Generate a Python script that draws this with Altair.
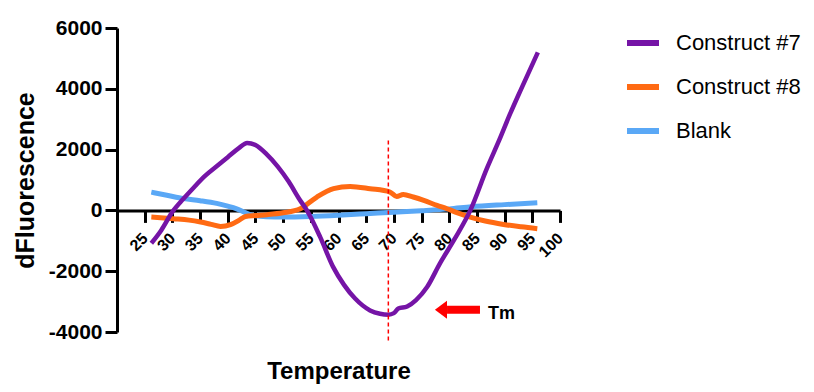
import altair as alt
import pandas as pd

# ---- data ----
series_names = ["Construct #7", "Construct #8", "Blank"]
series_colors = ["#7514A6", "#FF6A13", "#5AA8F6"]

temps7 = [26.2, 28, 30, 32, 34, 36, 38, 40, 42, 43.5, 45, 47, 49, 51, 53, 54.3, 56.7, 59, 61, 63,
          65.7, 67.5, 69, 70, 70.8, 72.4, 74, 76, 78.3, 81, 83.8, 86.8, 89, 91, 93, 96]
vals7 = [-1080, -650, -50, 380, 780, 1150, 1450, 1750, 2050, 2220, 2150, 1850, 1450, 950, 350, 0,
         -880, -1850, -2450, -2900, -3290, -3400, -3430, -3380, -3230, -3160, -2950, -2520, -1750,
         -930, 0, 1380, 2300, 3180, 4000, 5200]

temps8 = [26.2, 30.2, 33, 35.1, 37, 38.7, 40.5, 42, 43.2, 45, 47.1, 50, 53.1, 56.1, 59.1, 62.1,
          65.7, 69.3, 70.5, 71.7, 73.5, 75.4, 77.8, 79.6, 81.5, 83.8, 86.5, 89.8, 93, 95.9]
vals8 = [-220, -275, -320, -384, -460, -527, -470, -330, -200, -170, -142, -80, 55, 440, 714, 790,
         714, 604, 460, 527, 440, 329, 164, 55, -80, -220, -350, -461, -540, -600]

tempsB = [26.2, 29, 32, 35, 38, 40, 41.5, 43, 44.5, 47, 50, 55, 60, 65, 70, 75, 80, 84, 90, 95.9]
valsB = [600, 500, 390, 320, 230, 140, 60, -60, -160, -210, -220, -200, -160, -110, -60, -10, 50,
         120, 190, 250]

x_ticks = list(range(25, 101, 5))
y_ticks = [-4000, -2000, 0, 2000, 4000, 6000]

tm_temp = [69]
tm_top = [2300]
tm_bottom = [-4340]
arrow_shaft_start = [79.6]
arrow_shaft_end = [85.55]
arrow_head = [78.5]
arrow_level = [-3266]
tm_label = ["Tm"]
tm_label_x = [87.0]
tm_label_y = [-3586]

FONT = "Liberation Sans"

df7 = pd.DataFrame({"Temperature": temps7, "dF": vals7, "series": series_names[0]})
df8 = pd.DataFrame({"Temperature": temps8, "dF": vals8, "series": series_names[1]})
dfB = pd.DataFrame({"Temperature": tempsB, "dF": valsB, "series": series_names[2]})

x_axis = alt.Axis(
    values=x_ticks, grid=False, labelAngle=-45, labelAlign="right", labelBaseline="middle",
    labelFont=FONT, labelFontSize=16, labelFontWeight="bold", labelColor="black",
    labelPadding=13, labelFlush=False, labelOverlap=False,
    domainColor="black", domainWidth=3, tickColor="black", tickWidth=3, tickSize=12,
    offset=-121.6, title="Temperature", titleFont=FONT, titleFontSize=24,
    titleFontWeight="bold", titleColor="black", titleX=221.5, titleY=168,
    titleBaseline="alphabetic", titleAlign="center",
)
y_axis = alt.Axis(
    values=y_ticks, grid=False, labelExpr="toString(datum.value)",
    labelFont=FONT, labelFontSize=21, labelFontWeight="bold", labelColor="black",
    labelPadding=3, labelFlush=False, labelBaseline="middle",
    domainColor="black", domainWidth=3, tickColor="black", tickWidth=3, tickSize=12,
    title="dFluorescence", titleFont=FONT, titleFontSize=25, titleFontWeight="bold",
    titleColor="black", titleAngle=270, titleX=-84, titleY=152,
    titleBaseline="alphabetic", titleAlign="center",
)

x = alt.X("Temperature:Q", scale=alt.Scale(domain=[20, 100], nice=False, zero=False), axis=x_axis)
y = alt.Y("dF:Q", scale=alt.Scale(domain=[-4000, 6000], nice=False, zero=False), axis=y_axis)

color = alt.Color(
    "series:N",
    scale=alt.Scale(domain=series_names, range=series_colors),
    legend=alt.Legend(
        title=None, orient="none", legendX=507, legendY=-4, symbolType="stroke",
        symbolSize=1024, symbolStrokeWidth=6, labelFont=FONT, labelFontSize=22,
        labelColor="black", rowPadding=13, labelOffset=14, padding=0,
    ),
)


def curve(df, w):
    return alt.Chart(df).mark_line(strokeWidth=w, interpolate="monotone").encode(
        x=x, y=y, color=color
    )


tm_df = pd.DataFrame({"Temperature": tm_temp, "dF": tm_top, "dF2": tm_bottom})
tm_line = alt.Chart(tm_df).mark_rule(color="#FF0000", strokeDash=[4, 3], strokeWidth=1.5).encode(
    x=x, y=y, y2=alt.Y2("dF2:Q")
)

shaft_df = pd.DataFrame({"Temperature": arrow_shaft_start, "T2": arrow_shaft_end, "dF": arrow_level})
shaft = alt.Chart(shaft_df).mark_rule(color="#FF0000", strokeWidth=8).encode(
    x=x, x2=alt.X2("T2:Q"), y=y
)

head_df = pd.DataFrame({"Temperature": arrow_head, "dF": arrow_level})
head = alt.Chart(head_df).mark_point(
    shape="M -0.67 0 L 0.67 -1 L 0.67 1 Z", size=324, filled=True, color="#FF0000", opacity=1
).encode(x=x, y=y)

label_df = pd.DataFrame({"Temperature": tm_label_x, "dF": tm_label_y, "txt": tm_label})
label = alt.Chart(label_df).mark_text(
    font=FONT, fontSize=18, fontWeight="bold", color="black", align="left", baseline="alphabetic"
).encode(x=x, y=y, text="txt:N")

chart = alt.layer(
    curve(dfB, 5), curve(df8, 5), curve(df7, 4.5), tm_line, shaft, head, label
).properties(
    width=443,
    height=304,
    padding={"left": 109, "top": 20, "right": 246, "bottom": 52},
    autosize=alt.AutoSizeParams(type="none"),
).configure_view(stroke=None)

chart.save("out.html", embed_options={"renderer": "svg", "actions": False})
